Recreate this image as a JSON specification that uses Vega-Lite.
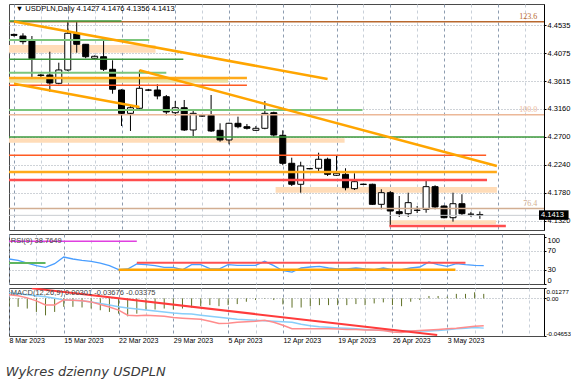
{
"$schema":"https://vega.github.io/schema/vega-lite/v6.json",
"padding":{"left":5,"top":3,"right":0,"bottom":0},
"background":"#ffffff",
"spacing":2,
"title":{"text":"Wykres dzienny USDPLN","orient":"bottom","anchor":"start","font":"DejaVu Sans","fontSize":13,"fontStyle":"italic","fontWeight":"normal","color":"#3a3a3a","offset":22,"dx":-2},
"config":{"view":{"stroke":"#4a4a4a","strokeWidth":1},"axis":{"labelFont":"Liberation Sans","labelFontSize":7.5,"labelColor":"#000000","labelOverlap":false,"labelBound":false,"labelFlush":false},"text":{"font":"Liberation Sans","fontSize":7.5}},
"datasets":{
"bars":[
{"i":0,"d":"2023-03-08","o":4.4385,"h":4.4400,"l":4.4350,"c":4.4370,"rsi":53.0,"hist":-0.0097,"macd":0.0044,"sig":0.0069},
{"i":1,"d":"2023-03-09","o":4.4359,"h":4.4404,"l":4.4223,"c":4.4266,"rsi":50.2,"hist":-0.0105,"macd":0.0031,"sig":0.0057},
{"i":2,"d":"2023-03-10","o":4.4277,"h":4.4359,"l":4.3674,"c":4.3986,"rsi":44.5,"hist":-0.0126,"macd":0.0006,"sig":0.0044},
{"i":3,"d":"2023-03-12","o":4.3710,"h":4.3735,"l":4.3686,"c":4.3719,"rsi":38.8,"hist":-0.0168,"macd":-0.0031,"sig":0.0031},
{"i":4,"d":"2023-03-13","o":4.3719,"h":4.4101,"l":4.3444,"c":4.3587,"rsi":35.4,"hist":-0.0210,"macd":-0.0082,"sig":0.0019},
{"i":5,"d":"2023-03-14","o":4.3582,"h":4.3921,"l":4.3566,"c":4.3801,"rsi":43.0,"hist":-0.0168,"macd":-0.0082,"sig":0.0000},
{"i":6,"d":"2023-03-15","o":4.3801,"h":4.4606,"l":4.3784,"c":4.4404,"rsi":57.2,"hist":-0.0105,"macd":-0.0019,"sig":-0.0019},
{"i":7,"d":"2023-03-16","o":4.4397,"h":4.4594,"l":4.4085,"c":4.4223,"rsi":53.0,"hist":-0.0105,"macd":-0.0025,"sig":-0.0025},
{"i":8,"d":"2023-03-17","o":4.4223,"h":4.4228,"l":4.3993,"c":4.4019,"rsi":50.2,"hist":-0.0113,"macd":-0.0031,"sig":-0.0031},
{"i":9,"d":"2023-03-19","o":4.3993,"h":4.4039,"l":4.3981,"c":4.4026,"rsi":48.1,"hist":-0.0126,"macd":-0.0044,"sig":-0.0044},
{"i":10,"d":"2023-03-20","o":4.4019,"h":4.4305,"l":4.3784,"c":4.3812,"rsi":44.5,"hist":-0.0147,"macd":-0.0075,"sig":-0.0063},
{"i":11,"d":"2023-03-21","o":4.3812,"h":4.3960,"l":4.3411,"c":4.3484,"rsi":38.8,"hist":-0.0168,"macd":-0.0107,"sig":-0.0082},
{"i":12,"d":"2023-03-22","o":4.3472,"h":4.3484,"l":4.2881,"c":4.3089,"rsi":30.3,"hist":-0.0189,"macd":-0.0145,"sig":-0.0103},
{"i":13,"d":"2023-03-23","o":4.3089,"h":4.3209,"l":4.2799,"c":4.3181,"rsi":31.8,"hist":-0.0222,"macd":-0.0208,"sig":-0.0119},
{"i":14,"d":"2023-03-24","o":4.3172,"h":4.3796,"l":4.3155,"c":4.3500,"rsi":42.4,"hist":-0.0189,"macd":-0.0214,"sig":-0.0132},
{"i":15,"d":"2023-03-26","o":4.3472,"h":4.3489,"l":4.3456,"c":4.3470,"rsi":40.9,"hist":-0.0147,"macd":-0.0208,"sig":-0.0145},
{"i":16,"d":"2023-03-27","o":4.3472,"h":4.3566,"l":4.3319,"c":4.3374,"rsi":38.8,"hist":-0.0138,"macd":-0.0214,"sig":-0.0157},
{"i":17,"d":"2023-03-28","o":4.3362,"h":4.3390,"l":4.3057,"c":4.3111,"rsi":35.4,"hist":-0.0126,"macd":-0.0220,"sig":-0.0170},
{"i":18,"d":"2023-03-29","o":4.3099,"h":4.3291,"l":4.3045,"c":4.3181,"rsi":35.4,"hist":-0.0138,"macd":-0.0236,"sig":-0.0182},
{"i":19,"d":"2023-03-30","o":4.3181,"h":4.3308,"l":4.2799,"c":4.2815,"rsi":30.3,"hist":-0.0126,"macd":-0.0245,"sig":-0.0189},
{"i":20,"d":"2023-03-31","o":4.2815,"h":4.3127,"l":4.2716,"c":4.3089,"rsi":40.9,"hist":-0.0113,"macd":-0.0252,"sig":-0.0195},
{"i":21,"d":"2023-04-02","o":4.3045,"h":4.3078,"l":4.3029,"c":4.3047,"rsi":40.9,"hist":-0.0097,"macd":-0.0258,"sig":-0.0208},
{"i":22,"d":"2023-04-03","o":4.3057,"h":4.3390,"l":4.2782,"c":4.2799,"rsi":32.4,"hist":-0.0084,"macd":-0.0283,"sig":-0.0220},
{"i":23,"d":"2023-04-04","o":4.2810,"h":4.2925,"l":4.2623,"c":4.2651,"rsi":31.8,"hist":-0.0097,"macd":-0.0312,"sig":-0.0233},
{"i":24,"d":"2023-04-05","o":4.2651,"h":4.2935,"l":4.2580,"c":4.2925,"rsi":40.9,"hist":-0.0084,"macd":-0.0308,"sig":-0.0245},
{"i":25,"d":"2023-04-06","o":4.2925,"h":4.3034,"l":4.2843,"c":4.2869,"rsi":39.6,"hist":-0.0071,"macd":-0.0296,"sig":-0.0258},
{"i":26,"d":"2023-04-07","o":4.2869,"h":4.2914,"l":4.2823,"c":4.2843,"rsi":39.6,"hist":-0.0042,"macd":-0.0289,"sig":-0.0264},
{"i":27,"d":"2023-04-09","o":4.2810,"h":4.2881,"l":4.2799,"c":4.2843,"rsi":39.6,"hist":-0.0021,"macd":-0.0283,"sig":-0.0270},
{"i":28,"d":"2023-04-10","o":4.2843,"h":4.3291,"l":4.2827,"c":4.3089,"rsi":48.1,"hist":-0.0005,"macd":-0.0270,"sig":-0.0277},
{"i":29,"d":"2023-04-11","o":4.3099,"h":4.3116,"l":4.2705,"c":4.2733,"rsi":38.8,"hist":-0.0021,"macd":-0.0296,"sig":-0.0283},
{"i":30,"d":"2023-04-12","o":4.2728,"h":4.2810,"l":4.2240,"c":4.2268,"rsi":28.2,"hist":-0.0075,"macd":-0.0333,"sig":-0.0289},
{"i":31,"d":"2023-04-13","o":4.2268,"h":4.2360,"l":4.1895,"c":4.1923,"rsi":25.4,"hist":-0.0115,"macd":-0.0375,"sig":-0.0296},
{"i":32,"d":"2023-04-14","o":4.1923,"h":4.2294,"l":4.1785,"c":4.2224,"rsi":33.9,"hist":-0.0113,"macd":-0.0377,"sig":-0.0321},
{"i":33,"d":"2023-04-16","o":4.2180,"h":4.2190,"l":4.2170,"c":4.2179,"rsi":36.0,"hist":-0.0097,"macd":-0.0375,"sig":-0.0340},
{"i":34,"d":"2023-04-17","o":4.2186,"h":4.2442,"l":4.2141,"c":4.2334,"rsi":37.5,"hist":-0.0084,"macd":-0.0375,"sig":-0.0352},
{"i":35,"d":"2023-04-18","o":4.2334,"h":4.2360,"l":4.2059,"c":4.2087,"rsi":33.9,"hist":-0.0084,"macd":-0.0377,"sig":-0.0358},
{"i":36,"d":"2023-04-19","o":4.2071,"h":4.2388,"l":4.2059,"c":4.2104,"rsi":31.8,"hist":-0.0084,"macd":-0.0380,"sig":-0.0365},
{"i":37,"d":"2023-04-20","o":4.2087,"h":4.2186,"l":4.1824,"c":4.1867,"rsi":31.8,"hist":-0.0084,"macd":-0.0384,"sig":-0.0371},
{"i":38,"d":"2023-04-21","o":4.1851,"h":4.2104,"l":4.1829,"c":4.1966,"rsi":33.9,"hist":-0.0071,"macd":-0.0384,"sig":-0.0377},
{"i":39,"d":"2023-04-23","o":4.1925,"h":4.1935,"l":4.1910,"c":4.1920,"rsi":31.8,"hist":-0.0084,"macd":-0.0390,"sig":-0.0384},
{"i":40,"d":"2023-04-24","o":4.1923,"h":4.1933,"l":4.1583,"c":4.1594,"rsi":30.3,"hist":-0.0063,"macd":-0.0390,"sig":-0.0390},
{"i":41,"d":"2023-04-25","o":4.1594,"h":4.1841,"l":4.1512,"c":4.1785,"rsi":33.9,"hist":-0.0050,"macd":-0.0396,"sig":-0.0396},
{"i":42,"d":"2023-04-26","o":4.1785,"h":4.1813,"l":4.1238,"c":4.1484,"rsi":30.3,"hist":-0.0084,"macd":-0.0415,"sig":-0.0396},
{"i":43,"d":"2023-04-27","o":4.1473,"h":4.1731,"l":4.1386,"c":4.1440,"rsi":30.3,"hist":-0.0097,"macd":-0.0421,"sig":-0.0400},
{"i":44,"d":"2023-04-28","o":4.1440,"h":4.1785,"l":4.1386,"c":4.1621,"rsi":33.9,"hist":-0.0042,"macd":-0.0403,"sig":-0.0403},
{"i":45,"d":"2023-04-30","o":4.1495,"h":4.1566,"l":4.1451,"c":4.1498,"rsi":36.0,"hist":-0.0021,"macd":-0.0396,"sig":-0.0405},
{"i":46,"d":"2023-05-01","o":4.1512,"h":4.2005,"l":4.1456,"c":4.1884,"rsi":46.6,"hist":0.0029,"macd":-0.0390,"sig":-0.0403},
{"i":47,"d":"2023-05-02","o":4.1884,"h":4.1907,"l":4.1512,"c":4.1550,"rsi":40.9,"hist":0.0029,"macd":-0.0384,"sig":-0.0396},
{"i":48,"d":"2023-05-03","o":4.1566,"h":4.1578,"l":4.1364,"c":4.1374,"rsi":37.5,"hist":0.0021,"macd":-0.0377,"sig":-0.0387},
{"i":49,"d":"2023-05-04","o":4.1374,"h":4.1785,"l":4.1309,"c":4.1604,"rsi":43.0,"hist":0.0055,"macd":-0.0371,"sig":-0.0377},
{"i":50,"d":"2023-05-05","o":4.1604,"h":4.1759,"l":4.1419,"c":4.1440,"rsi":40.9,"hist":0.0055,"macd":-0.0358,"sig":-0.0369},
{"i":51,"d":"2023-05-07","o":4.1432,"h":4.1470,"l":4.1390,"c":4.1430,"rsi":39.6,"hist":0.0075,"macd":-0.0346,"sig":-0.0361},
{"i":52,"d":"2023-05-08","o":4.1427,"h":4.1476,"l":4.1356,"c":4.1413,"rsi":38.8,"hist":0.0055,"macd":-0.0338,"sig":-0.0368}
],
"bands":[{"x1":-1,"x2":15.8,"p1":4.4212,"p2":4.4085},{"x1":-1,"x2":36.9,"p1":4.2679,"p2":4.2606},{"x1":29.2,"x2":53.9,"p1":4.1879,"p2":4.1785},{"x1":41.9,"x2":53.8,"p1":4.1332,"p2":4.1266}],
"khakiZone":[{"x1":-1,"x2":23.9,"p1":4.3658,"p2":4.3592}],
"fibLevels":[{"level":"123.6","p":4.4594},{"level":"100.0","p":4.3066},{"level":"76.4","p":4.1524}],
"greenLight":[{"x1":-1,"x2":15.1,"p":4.4294},{"x1":-1,"x2":17.0,"p":4.3756},{"x1":-1,"x2":38.9,"p":4.3144}],
"greenDark":[{"x1":-1,"x2":12.0,"p":4.4606},{"x1":-1,"x2":18.9,"p":4.3977},{"x1":-1,"x2":60,"p":4.27}],
"orangeLevels":[{"x1":-1,"x2":26.0,"p":4.3669},{"x1":-1,"x2":53.9,"p":4.2125}],
"orangeRedLevels":[{"x1":-1,"x2":26.0,"p":4.3549},{"x1":-1,"x2":52.7,"p":4.2399}],
"redLevels":[{"x1":-1,"x2":52.8,"p":4.1994},{"x1":41.9,"x2":54.9,"p":4.1238}],
"orangeTrends":[{"x1":0,"p1":4.4598,"x2":35.0,"p2":4.3653},{"x1":14.0,"p1":4.3796,"x2":53.9,"p2":4.2224},{"x1":0,"p1":4.3576,"x2":14.0,"p2":4.3193}],
"rsiMagenta":[{"x1":-1,"x2":14.0,"v":90.5}],
"rsiGreen":[{"x1":-1,"x2":4.0,"v":44.5}],
"rsiOrange":[{"x1":12.0,"x2":48.9,"v":30.3}],
"rsiRed":[{"x1":14.0,"x2":50.0,"v":45.2}],
"macdTrend":[{"x1":2.5,"v1":0.0124,"x2":46.9,"v2":-0.0453}]
},
"vconcat":[
{"width":535,"height":226,
"resolve":{"axis":{"x":"independent","y":"independent"}},
"layer":[
{"data":{"name":"bands"},"mark":{"type":"rect","color":"#ffdcb8","clip":true},
"encoding":{
"x":{"field":"x1","type":"quantitative","scale":{"domain":[0,58.6],"nice":false,"zero":false},
"axis":{"values":[0,3,6,9,12,15,18,21,24,27,30,33,36,39,42,45,48,51,54,57],"grid":true,"gridDash":[3,3],"gridColor":{"condition":{"test":"datum.value % 6 == 0","value":"#8d9cb0"},"value":"#c9d0d9"},"labels":false,"ticks":false,"domain":false,"title":null}},
"x2":{"field":"x2"},
"y":{"field":"p1","type":"quantitative","scale":{"domain":[4.1172,4.4885],"nice":false,"zero":false},
"axis":{"orient":"right","values":[4.4535,4.4075,4.3615,4.316,4.27,4.224,4.178,4.132],"format":".4f","title":null,"grid":true,"gridDash":[1,2],"gridColor":"#9ea7b0","domain":true,"domainColor":"#000000","ticks":true,"tickSize":2,"tickColor":"#000000","labelPadding":1,"labelOverlap":false}},
"y2":{"field":"p2"}}},
{"data":{"name":"khakiZone"},"mark":{"type":"rect","color":"#ebe2a2","clip":true},
"encoding":{"x":{"field":"x1","type":"quantitative","axis":null},"x2":{"field":"x2"},"y":{"field":"p1","type":"quantitative","axis":null},"y2":{"field":"p2"}}},
{"data":{"name":"bars"},"mark":{"type":"rule","color":"#000000","strokeWidth":1,"clip":true},
"encoding":{"x":{"field":"i","type":"quantitative","axis":null},"y":{"field":"l","type":"quantitative","axis":null},"y2":{"field":"h"}}},
{"data":{"name":"bars"},"mark":{"type":"bar","size":6,"stroke":"#000000","strokeWidth":1,"clip":true},
"encoding":{"x":{"field":"i","type":"quantitative","axis":null},"y":{"field":"o","type":"quantitative","axis":null},"y2":{"field":"c"},
"fill":{"condition":{"test":"datum.c >= datum.o","value":"#ffffff"},"value":"#000000"}}},
{"data":{"name":"bars"},"transform":[{"filter":"datum.i == 52"}],"mark":{"type":"rule","color":"#c8ccd0","strokeWidth":1},
"encoding":{"y":{"field":"c","type":"quantitative","axis":null}}},
{"data":{"name":"fibLevels"},"mark":{"type":"rule","strokeWidth":1.5},
"encoding":{"y":{"field":"p","type":"quantitative","axis":null},
"color":{"field":"level","type":"nominal","scale":{"domain":["123.6","100.0","76.4"],"range":["#b8682e","#ecb898","#d2ae92"]},"legend":null}}},
{"data":{"name":"fibLevels"},"mark":{"type":"text","align":"right","baseline":"bottom","dy":-1,"font":"Liberation Serif","fontSize":8},
"encoding":{"x":{"datum":58.4,"type":"quantitative","axis":null},"y":{"field":"p","type":"quantitative","axis":null},"text":{"field":"level"},
"color":{"field":"level","type":"nominal","legend":null}}},
{"data":{"name":"greenLight"},"mark":{"type":"rule","color":"#7cc67c","strokeWidth":2,"clip":true},
"encoding":{"x":{"field":"x1","type":"quantitative","axis":null},"x2":{"field":"x2"},"y":{"field":"p","type":"quantitative","axis":null}}},
{"data":{"name":"greenDark"},"mark":{"type":"rule","color":"#3c9a3c","strokeWidth":1.5,"clip":true},
"encoding":{"x":{"field":"x1","type":"quantitative","axis":null},"x2":{"field":"x2"},"y":{"field":"p","type":"quantitative","axis":null}}},
{"data":{"name":"orangeLevels"},"mark":{"type":"rule","color":"#ffaa1a","strokeWidth":2.5,"clip":true},
"encoding":{"x":{"field":"x1","type":"quantitative","axis":null},"x2":{"field":"x2"},"y":{"field":"p","type":"quantitative","axis":null}}},
{"data":{"name":"orangeRedLevels"},"mark":{"type":"rule","color":"#ff5a22","strokeWidth":1.5,"clip":true},
"encoding":{"x":{"field":"x1","type":"quantitative","axis":null},"x2":{"field":"x2"},"y":{"field":"p","type":"quantitative","axis":null}}},
{"data":{"name":"redLevels"},"mark":{"type":"rule","color":"#ff4d4d","strokeWidth":2.5,"clip":true},
"encoding":{"x":{"field":"x1","type":"quantitative","axis":null},"x2":{"field":"x2"},"y":{"field":"p","type":"quantitative","axis":null}}},
{"data":{"name":"orangeTrends"},"mark":{"type":"rule","color":"#ffa500","strokeWidth":2.5,"clip":true},
"encoding":{"x":{"field":"x1","type":"quantitative","axis":null},"x2":{"field":"x2"},"y":{"field":"p1","type":"quantitative","axis":null},"y2":{"field":"p2"}}},
{"data":{"values":[{"label":"▼ USDPLN,Daily  4.1427 4.1476 4.1356 4.1413"}]},"mark":{"type":"text","align":"left","baseline":"middle","fontSize":7.5,"color":"#000000"},
"encoding":{"x":{"datum":0.2,"type":"quantitative","axis":null},"y":{"datum":4.4803,"type":"quantitative","axis":null},"text":{"field":"label"}}},
{"data":{"name":"bars"},"transform":[{"filter":"datum.i == 52"}],"mark":{"type":"rect","color":"#000000","yOffset":-5,"y2Offset":4.5},
"encoding":{"x":{"datum":58.6,"type":"quantitative","axis":null},"x2":{"datum":61.9},"y":{"field":"c","type":"quantitative","axis":null},"y2":{"field":"c"}}},
{"data":{"name":"bars"},"transform":[{"filter":"datum.i == 52"}],"mark":{"type":"text","align":"left","baseline":"middle","color":"#ffffff","fontSize":7.5,"dx":2},
"encoding":{"x":{"datum":58.6,"type":"quantitative","axis":null},"y":{"field":"c","type":"quantitative","axis":null},"text":{"field":"c","format":".4f"}}}
]},
{"width":535,"height":50,
"resolve":{"axis":{"x":"independent","y":"independent"}},
"layer":[
{"data":{"name":"bars"},"mark":{"type":"line","color":"#4a9eff","strokeWidth":1.3,"clip":true},
"encoding":{
"x":{"field":"i","type":"quantitative","scale":{"domain":[0,58.6],"nice":false,"zero":false},
"axis":{"values":[0,3,6,9,12,15,18,21,24,27,30,33,36,39,42,45,48,51,54,57],"grid":true,"gridDash":[3,3],"gridColor":{"condition":{"test":"datum.value % 6 == 0","value":"#8d9cb0"},"value":"#c9d0d9"},"labels":false,"ticks":false,"domain":false,"title":null}},
"y":{"field":"rsi","type":"quantitative","scale":{"domain":[0,106],"nice":false,"zero":false},
"axis":{"orient":"right","values":[0,30,70,100],"title":null,"grid":true,"gridDash":[1,2],"gridColor":"#9ea7b0","gridOpacity":{"condition":{"test":"datum.value == 30 || datum.value == 70","value":1},"value":0},"domain":true,"domainColor":"#000000","ticks":true,"tickSize":2,"tickColor":"#000000","labelPadding":1,"labelOverlap":false,
"labelBaseline":{"condition":[{"test":"datum.value == 0","value":"bottom"},{"test":"datum.value == 100","value":"top"}],"value":"middle"}}}}},
{"data":{"name":"rsiMagenta"},"mark":{"type":"rule","color":"#e040e0","strokeWidth":1.5,"clip":true},
"encoding":{"x":{"field":"x1","type":"quantitative","axis":null},"x2":{"field":"x2"},"y":{"field":"v","type":"quantitative","axis":null}}},
{"data":{"name":"rsiGreen"},"mark":{"type":"rule","color":"#5fb55f","strokeWidth":2,"clip":true},
"encoding":{"x":{"field":"x1","type":"quantitative","axis":null},"x2":{"field":"x2"},"y":{"field":"v","type":"quantitative","axis":null}}},
{"data":{"name":"rsiOrange"},"mark":{"type":"rule","color":"#ffa500","strokeWidth":2.5,"clip":true},
"encoding":{"x":{"field":"x1","type":"quantitative","axis":null},"x2":{"field":"x2"},"y":{"field":"v","type":"quantitative","axis":null}}},
{"data":{"name":"rsiRed"},"mark":{"type":"rule","color":"#ff5050","strokeWidth":2,"clip":true},
"encoding":{"x":{"field":"x1","type":"quantitative","axis":null},"x2":{"field":"x2"},"y":{"field":"v","type":"quantitative","axis":null}}},
{"data":{"values":[{"label":"RSI(9) 38.7649"}]},"mark":{"type":"text","align":"left","baseline":"middle","fontSize":7.5,"color":"#444444"},
"encoding":{"x":{"datum":0.2,"type":"quantitative","axis":null},"y":{"datum":90.5,"type":"quantitative","axis":null},"text":{"field":"label"}}}
]},
{"width":535,"height":48,
"resolve":{"axis":{"x":"independent","y":"independent"}},
"layer":[
{"data":{"name":"bars"},"mark":{"type":"rule","color":"#5f7026","strokeWidth":1,"clip":true},
"encoding":{
"x":{"field":"i","type":"quantitative","scale":{"domain":[0,58.6],"nice":false,"zero":false},
"axis":{"values":[0,3,6,9,12,15,18,21,24,27,30,33,36,39,42,45,48,51,54,57],"grid":true,"gridDash":[3,3],"gridColor":{"condition":{"test":"datum.value % 6 == 0","value":"#8d9cb0"},"value":"#c9d0d9"},"labels":true,
"labelExpr":"datum.value==0?'8 Mar 2023':datum.value==6?'15 Mar 2023':datum.value==12?'22 Mar 2023':datum.value==18?'29 Mar 2023':datum.value==24?'5 Apr 2023':datum.value==30?'12 Apr 2023':datum.value==36?'19 Apr 2023':datum.value==42?'26 Apr 2023':datum.value==48?'3 May 2023':''",
"labelAlign":"left","labelFontSize":7,"labelPadding":0,"labelOverlap":false,"labelFlush":false,"labelBound":false,"ticks":false,"domain":false,"title":null}},
"y":{"field":"hist","type":"quantitative","scale":{"domain":[-0.04653,0.01277],"nice":false,"zero":false},
"axis":{"orient":"right","values":[0.01277,0,-0.04653],"title":null,
"labelExpr":"datum.value == 0 ? '0.00' : (datum.value < 0 ? '-' + format(-datum.value, '.5f') : format(datum.value, '.5f'))",
"grid":true,"gridDash":[1,2],"gridColor":"#9ea7b0","gridOpacity":{"condition":{"test":"datum.value == 0","value":1},"value":0},"domain":true,"domainColor":"#000000","ticks":true,"tickSize":2,"tickColor":"#000000","labelPadding":0,"labelFontSize":6.2,"labelOverlap":false,
"labelBaseline":{"condition":[{"test":"datum.value > 0.01","value":"top"},{"test":"datum.value < -0.04","value":"bottom"}],"value":"middle"}}},
"y2":{"datum":0}}},
{"data":{"name":"bars"},"mark":{"type":"line","color":"#87cefa","strokeWidth":1.5,"clip":true},
"encoding":{"x":{"field":"i","type":"quantitative","axis":null},"y":{"field":"sig","type":"quantitative","axis":null}}},
{"data":{"name":"bars"},"mark":{"type":"line","color":"#ff8c8c","strokeWidth":1.5,"clip":true},
"encoding":{"x":{"field":"i","type":"quantitative","axis":null},"y":{"field":"macd","type":"quantitative","axis":null}}},
{"data":{"name":"macdTrend"},"mark":{"type":"rule","color":"#ff3b3b","strokeWidth":2,"clip":true},
"encoding":{"x":{"field":"x1","type":"quantitative","axis":null},"x2":{"field":"x2"},"y":{"field":"v1","type":"quantitative","axis":null},"y2":{"field":"v2"}}},
{"data":{"values":[{"label":"MACD(12,26,9) 0.00301 -0.03676 -0.03375"}]},"mark":{"type":"text","align":"left","baseline":"middle","fontSize":7.5,"color":"#444444"},
"encoding":{"x":{"datum":0.2,"type":"quantitative","axis":null},"y":{"datum":0.0066,"type":"quantitative","axis":null},"text":{"field":"label"}}}
]}
]
}
